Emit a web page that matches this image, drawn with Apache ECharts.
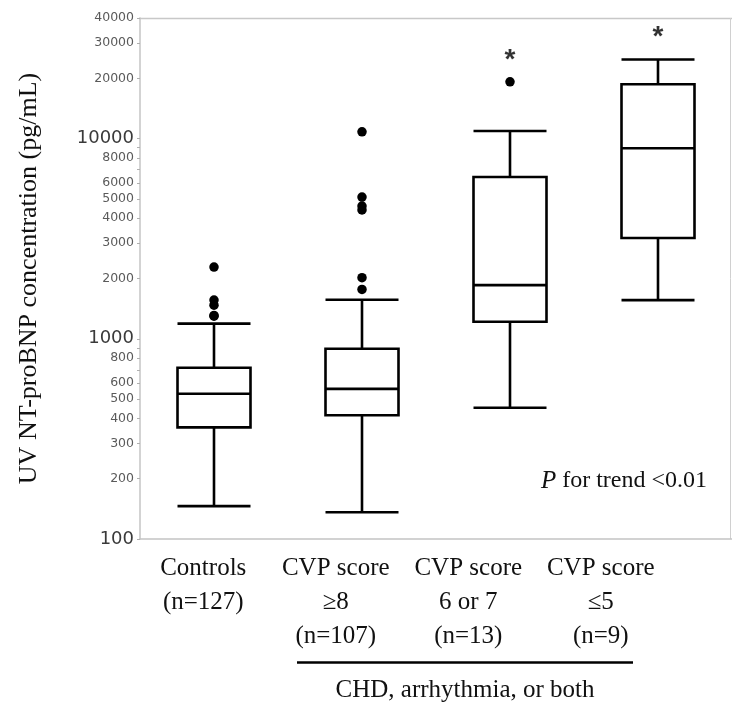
<!DOCTYPE html>
<html>
<head>
<meta charset="utf-8">
<script src="https://cdn.jsdelivr.net/npm/echarts@6/dist/echarts.min.js"></script>
<style>
html,body{margin:0;padding:0;background:#fff;}
#chart{width:732px;height:708px;}
</style>
</head>
<body>
<div id="chart"></div>
<script>
// ---- data ----
const categories = ['Controls\n(n=127)', 'CVP score\n≥8\n(n=107)', 'CVP score\n6 or 7\n(n=13)', 'CVP score\n≤5\n(n=9)'];
// [lower whisker, Q1, median, Q3, upper whisker]
const boxValues = [
  [146, 361, 531, 716, 1190],
  [136, 415, 562, 891, 1567],
  [452, 1216, 1854, 6427, 10900],
  [1560, 3184, 8944, 18680, 24830]
];
// outliers: [category index, value]
const outliers = [
  [0, 2280], [0, 1560], [0, 1472], [0, 1308], [0, 1297],
  [1, 10800], [1, 5100], [1, 4600], [1, 4400], [1, 2018], [1, 1764],
  [2, 19190]
];
// significance markers: [category index, value]
const asterisks = [[2, 24500], [3, 32000]];
const yTickValues = [100,200,300,400,500,600,700,800,900,1000,2000,3000,4000,5000,6000,7000,8000,9000,10000,20000,30000,40000];
const yLabelValues = [100,200,300,400,500,600,800,1000,2000,3000,4000,5000,6000,8000,10000,20000,30000,40000];
const majorLabels = [100, 1000, 10000];
const yTitle = 'UV NT-proBNP concentration (pg/mL)';
const groupLabel = 'CHD, arrhythmia, or both';

const chart = echarts.init(document.getElementById('chart'));
const serif = '"Liberation Serif", "Times New Roman", serif';
const option = {
  animation: false,
  backgroundColor: '#fff',
  grid: [
    {left: 140, right: -4, top: 18, bottom: 169},
    {left: 137, width: 530, top: 18, bottom: 169}
  ],
  xAxis: [
    {
      type: 'category', gridIndex: 0, data: categories,
      axisLine: {lineStyle: {color: '#c4c4c4', width: 1.5}},
      axisTick: {show: false},
      axisLabel: {show: false},
      splitLine: {show: false}
    },
    {
      type: 'category', gridIndex: 1, data: categories,
      axisLine: {show: false},
      axisTick: {show: false},
      axisLabel: {
        show: true, interval: 0, margin: 12,
        fontFamily: serif, fontSize: 25, lineHeight: 34, color: '#111', align: 'center'
      }
    }
  ],
  yAxis: [
    {
      type: 'log', gridIndex: 0, logBase: 10, min: 100, max: 40000,
      name: yTitle, nameLocation: 'middle', nameGap: 98,
      nameTextStyle: {fontFamily: serif, fontSize: 26, color: '#111'},
      axisLine: {show: true, lineStyle: {color: '#c4c4c4', width: 1.5}},
      axisTick: {show: true, length: 3, customValues: yTickValues, lineStyle: {color: '#b0b0b0'}},
      axisLabel: {
        show: true, margin: 6, customValues: yLabelValues,
        formatter: function (v) {
          return majorLabels.indexOf(Math.round(v)) >= 0 ? '{big|' + Math.round(v) + '}' : '{small|' + Math.round(v) + '}';
        },
        rich: {
          big: {fontFamily: '"DejaVu Sans", Verdana, sans-serif', fontSize: 18, color: '#3a3a3a'},
          small: {fontFamily: '"DejaVu Sans", Verdana, sans-serif', fontSize: 12.5, color: '#5a5a5a'}
        }
      },
      splitLine: {show: false}
    },
    {type: 'value', gridIndex: 1, show: false}
  ],
  series: [
    {
      type: 'boxplot', xAxisIndex: 0, yAxisIndex: 0,
      data: boxValues,
      boxWidth: [73, 73],
      itemStyle: {color: '#fff', borderColor: '#000', borderWidth: 2.6},
      emphasis: {disabled: true}
    },
    {
      type: 'scatter', xAxisIndex: 0, yAxisIndex: 0,
      data: outliers, symbol: 'circle', symbolSize: 9.5,
      itemStyle: {color: '#000', opacity: 1},
      emphasis: {disabled: true}
    },
    {
      type: 'scatter', xAxisIndex: 0, yAxisIndex: 0,
      data: asterisks, symbolSize: 0,
      label: {show: true, position: 'inside', formatter: '*', fontFamily: '"Liberation Sans", Arial, sans-serif', fontWeight: 'bold', fontSize: 28, color: '#000'}
    }
  ],
  graphic: [
    {type: 'line', shape: {x1: 139, y1: 18.5, x2: 732, y2: 18.5}, style: {stroke: '#c8c8c8', lineWidth: 1.5}},
    {type: 'line', shape: {x1: 730.5, y1: 18, x2: 730.5, y2: 539}, style: {stroke: '#d0d0d0', lineWidth: 1}},
    {type: 'line', shape: {x1: 297, y1: 662.5, x2: 633, y2: 662.5}, style: {stroke: '#000', lineWidth: 2.5}},
    {type: 'text', x: 465, y: 690, style: {text: groupLabel, font: '25px ' + serif, fill: '#111', textAlign: 'center', textVerticalAlign: 'middle'}},
    {type: 'text', x: 707, y: 481, style: {
      text: '{i|P} for trend <0.01', textAlign: 'right', textVerticalAlign: 'middle',
      rich: {i: {fontStyle: 'italic', fontFamily: serif, fontSize: 25, fill: '#111'}},
      font: '24px ' + serif, fill: '#111'
    }}
  ]
};
chart.setOption(option);
</script>
</body>
</html>
